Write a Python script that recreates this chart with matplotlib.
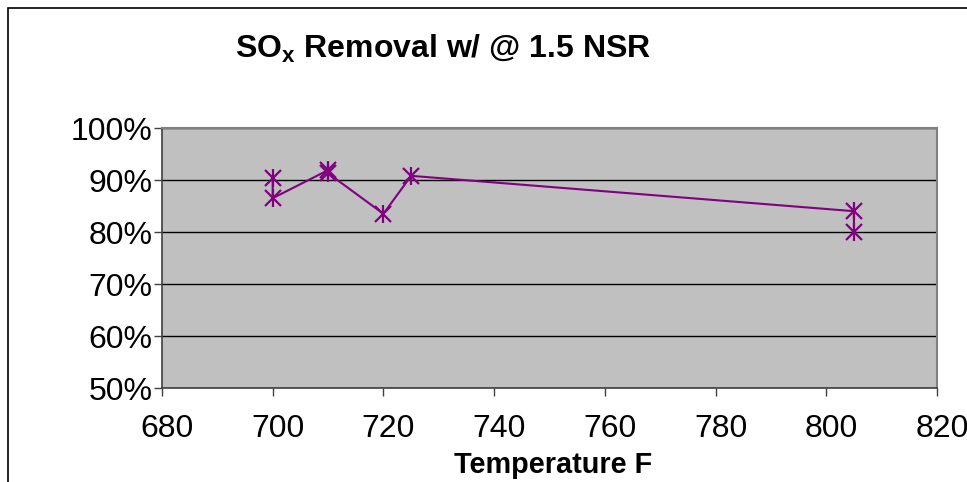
import matplotlib
matplotlib.use("Agg")
import matplotlib.pyplot as plt
from matplotlib.patches import Rectangle
from matplotlib.ticker import FuncFormatter
from matplotlib.transforms import ScaledTranslation

temps = [700, 700, 710, 710, 720, 725, 805, 805]
removal = [90.3, 86.5, 91.9, 91.3, 83.5, 90.8, 84.0, 80.0]
x_ticks = [680, 700, 720, 740, 760, 780, 800, 820]
y_ticks = [50, 60, 70, 80, 90, 100]

plt.rcParams['font.family'] = ['Liberation Sans', 'DejaVu Sans']
plt.rcParams['mathtext.fontset'] = 'custom'
plt.rcParams['mathtext.rm'] = 'Liberation Sans'
plt.rcParams['mathtext.bf'] = 'Liberation Sans:bold'
plt.rcParams['mathtext.it'] = 'Liberation Sans:italic'

W, H = 967, 482
fig = plt.figure(figsize=(W / 100, H / 100), dpi=100)
fig.patch.set_facecolor('white')

# outer chart border
fig.patches.append(Rectangle((8 / W, -0.2), 1.3, 1 - 8 / H + 0.2, transform=fig.transFigure,
                             fill=False, edgecolor='black', linewidth=1.2))

ax = fig.add_axes([162 / W, 1 - 388 / H, (937 - 162) / W, (388 - 128) / H])
ax.set_facecolor('#C0C0C0')
ax.set_xlim(680, 820)
ax.set_ylim(50, 100)
ax.set_xticks(x_ticks)
ax.set_yticks(y_ticks)
ax.yaxis.set_major_formatter(FuncFormatter(lambda v, p: f"{int(v)}%"))
ax.grid(axis='y', color='black', linewidth=1.0)
ax.set_axisbelow(True)

for s in ['top', 'right']:
    ax.spines[s].set_color('#808080')
    ax.spines[s].set_linewidth(1.5)
for s in ['left', 'bottom']:
    ax.spines[s].set_color('#404040')
    ax.spines[s].set_linewidth(1.2)

ax.tick_params(axis='both', direction='out', length=6, width=1, color='#404040',
               labelsize=23)
ax.tick_params(axis='x', pad=13)
ax.tick_params(axis='y', pad=1)

shift = ScaledTranslation(5 / 100, 0, fig.dpi_scale_trans)
for lbl in ax.get_xticklabels():
    lbl.set_transform(lbl.get_transform() + shift)

ax.plot(temps, removal, color='#800080', linewidth=1.5, marker='x', markersize=12,
        markeredgewidth=1.6)
ax.plot(temps, removal, linestyle='none', color='#800080', marker='|', markersize=13,
        markeredgewidth=1.6)

fig.text(443 / W, 1 - 58 / H, r"SO$_\mathbf{x}$ Removal w/ @ 1.5 NSR", ha='center',
         va='baseline', fontsize=23, fontweight='bold')
fig.text(553 / W, 1 - 473 / H, "Temperature F", ha='center', va='baseline',
         fontsize=20.8, fontweight='bold')

fig.savefig("out.png", dpi=100)
